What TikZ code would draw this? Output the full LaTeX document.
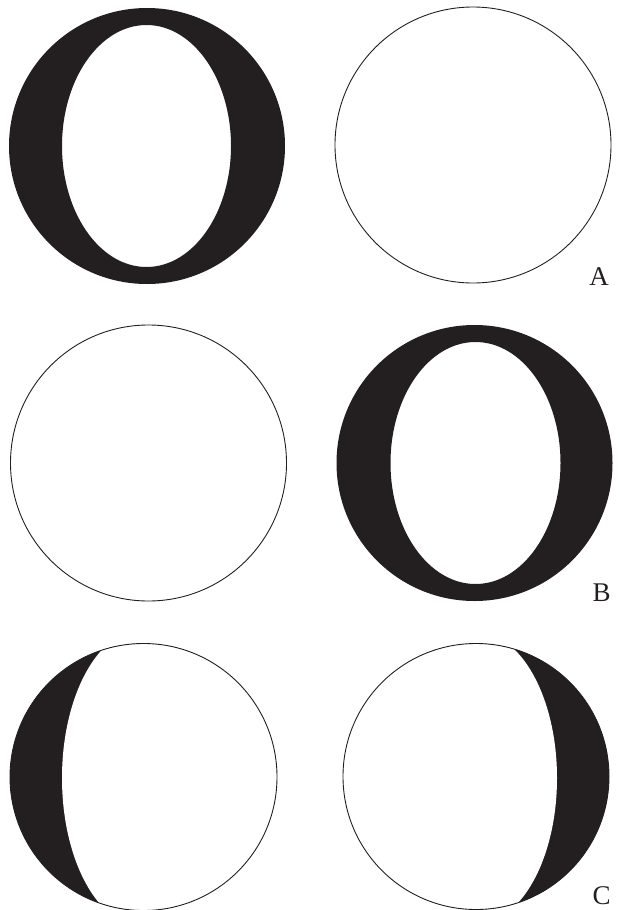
\documentclass[tikz,border=0pt]{standalone}
\usepackage{fontspec}
\setmainfont{Liberation Serif}
\definecolor{ink}{HTML}{231F20}
\begin{document}
\begin{tikzpicture}[x=1pt,y=-1pt,
  outline/.style={draw=ink, line width=0.9pt},
  solid/.style={fill=ink, even odd rule},
  lbl/.style={inner sep=0pt, text=ink, font=\fontsize{27}{30}\selectfont}]
\useasboundingbox (0,0) rectangle (619,910);
% Row A
\fill[solid] (147,146) circle[radius=138] (146.5,146) ellipse[x radius=84.5, y radius=121];
\draw[outline] (473,145) circle[radius=138];
\node[lbl] (labA) at (599,277) {A};
% Row B
\draw[outline] (148.5,463) circle[radius=138];
\fill[solid] (474.5,463) circle[radius=138] (475.5,463) ellipse[x radius=85, y radius=121];
\node[lbl] (labB) at (601.5,593) {B};
% Row C left
\begin{scope}
  \clip (143.5,777) circle[radius=133.5];
  \fill[ink] (0,600) rectangle (143.5,920);
  \fill[white] (143.5,778) ellipse[x radius=81.5, y radius=149];
\end{scope}
\draw[outline] (143.5,777) circle[radius=133.5];
% Row C right
\begin{scope}
  \clip (476,776.5) circle[radius=133];
  \fill[ink] (476,600) rectangle (619,920);
  \fill[white] (476,778) ellipse[x radius=81, y radius=146];
\end{scope}
\draw[outline] (476,776.5) circle[radius=133];
\node[lbl] (labC) at (601.5,896) {C};
\end{tikzpicture}
\end{document}
